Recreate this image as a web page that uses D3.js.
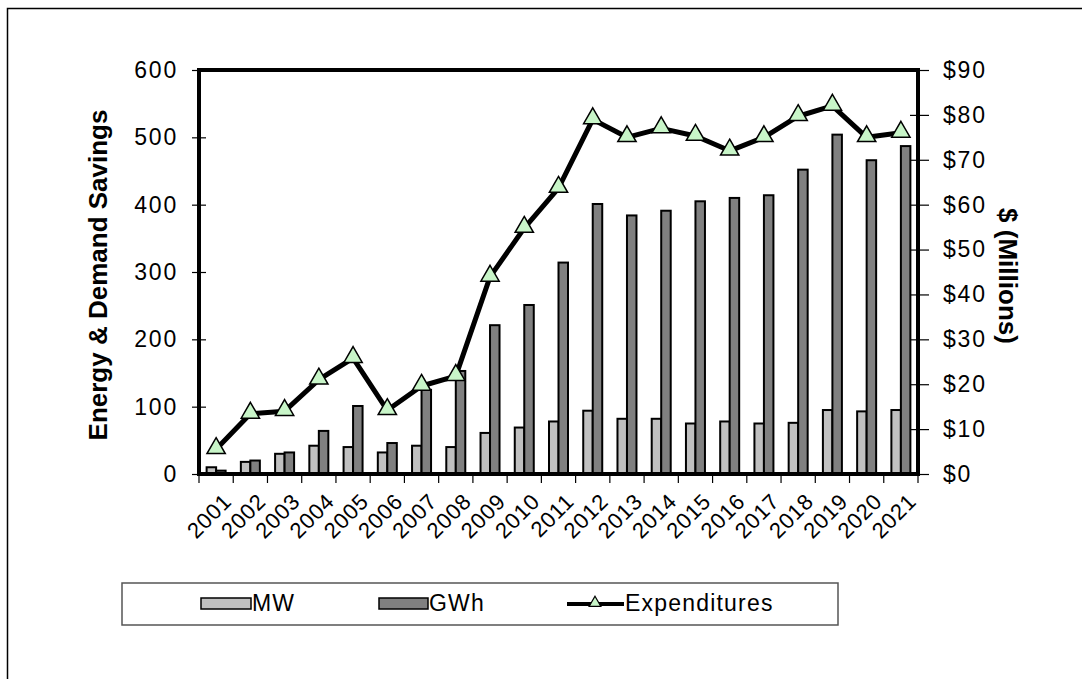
<!DOCTYPE html>
<html>
<head>
<meta charset="utf-8">
<script src="https://cdn.jsdelivr.net/npm/d3@7"></script>
<style>
  body { margin: 0; background: #fff; }
  text { font-family: "Liberation Sans", Arial, sans-serif; fill: #000; }
</style>
</head>
<body>
<div class="graph-div"></div>
<script>
var years = ["2001","2002","2003","2004","2005","2006","2007","2008","2009","2010","2011",
             "2012","2013","2014","2015","2016","2017","2018","2019","2020","2021"];
var mwValues  = [10, 18, 30, 42, 40, 32, 42, 40, 61, 69, 78, 94, 82, 82, 75, 78, 75, 76, 95, 93, 95];
var gwhValues = [5, 20, 32, 64, 101, 46, 125, 153, 221, 251, 314, 401, 384, 391, 405, 410, 414, 452, 504, 466, 487];
var expenditures = [5.5, 13.4, 14, 21, 25.8, 14.2, 19.6, 21.8, 43.9, 54.8, 63.7, 79, 75, 77, 75.3, 72, 75, 79.7, 82, 75, 76];
var leftTicks = [0, 100, 200, 300, 400, 500, 600];
var rightTicks = [0, 10, 20, 30, 40, 50, 60, 70, 80, 90];

var outerWidth = 1082;
var outerHeight = 679;
var margin = {left: 199, top: 70, right: 164, bottom: 205};
var innerWidth = outerWidth - margin.left - margin.right;
var innerHeight = outerHeight - margin.top - margin.bottom;

var svg = d3.select(".graph-div").append("svg")
    .attr("width", outerWidth)
    .attr("height", outerHeight);

// outer frame, right and bottom edges fall off the picture
svg.append("rect")
    .attr("x", 7.5).attr("y", 8.5)
    .attr("width", 1100).attr("height", 700)
    .attr("fill", "none").attr("stroke", "#000").attr("stroke-width", 1.5);

var g = svg.append("g")
    .attr("transform", "translate(" + margin.left + "," + margin.top + ")");

var xScale = d3.scaleBand().domain(years).range([0, innerWidth]).padding(0);
var bw = xScale.bandwidth();
var xSub = d3.scaleBand().domain(["MW", "GWh"]).range([bw / 2 - 9.5, bw / 2 + 9.5]);
var yLeft = d3.scaleLinear().domain([0, 600]).range([innerHeight, 0]);
var yRight = d3.scaleLinear().domain([0, 90]).range([innerHeight, 0]);

// bars
var groups = g.selectAll(".year").data(years).enter().append("g")
    .attr("transform", function(d) { return "translate(" + xScale(d) + ",0)"; });

groups.append("rect")
    .attr("x", xSub("MW"))
    .attr("width", xSub.bandwidth())
    .attr("y", function(d, i) { return yLeft(mwValues[i]); })
    .attr("height", function(d, i) { return innerHeight - yLeft(mwValues[i]); })
    .attr("fill", "#c0c0c0").attr("stroke", "#000").attr("stroke-width", 2);

groups.append("rect")
    .attr("x", xSub("GWh"))
    .attr("width", xSub.bandwidth())
    .attr("y", function(d, i) { return yLeft(gwhValues[i]); })
    .attr("height", function(d, i) { return innerHeight - yLeft(gwhValues[i]); })
    .attr("fill", "#808080").attr("stroke", "#000").attr("stroke-width", 2);

// axes
var leftAxis = d3.axisLeft(yLeft).tickValues(leftTicks).tickSize(7).tickPadding(14);
var rightAxis = d3.axisRight(yRight).tickValues(rightTicks).tickSize(9).tickPadding(16)
    .tickFormat(function(d) { return "$" + d; });

var yAxisG = g.append("g").call(leftAxis);
var y2AxisG = g.append("g").attr("transform", "translate(" + innerWidth + ",0)").call(rightAxis);
[yAxisG, y2AxisG].forEach(function(a) {
  a.attr("font-size", null).attr("font-family", null);
  a.select(".domain").remove();
  a.selectAll("text").style("font-size", "23px").style("letter-spacing", "1.8px");
  a.selectAll(".tick line").attr("stroke-width", 1.2);
});
// ticks cross the axis
yAxisG.selectAll(".tick line").attr("x1", -7).attr("x2", 7);
y2AxisG.selectAll(".tick line").attr("x1", -8).attr("x2", 11);

// x ticks at band boundaries
g.selectAll(".xtick").data(years.concat(["end"])).enter().append("line")
    .attr("x1", function(d, i) { return i * bw; })
    .attr("x2", function(d, i) { return i * bw; })
    .attr("y1", innerHeight).attr("y2", innerHeight + 9)
    .attr("stroke", "#000").attr("stroke-width", 1.2);

g.selectAll(".xlabel").data(years).enter().append("text")
    .attr("transform", function(d) {
      return "translate(" + (xScale(d) + bw / 2 + 6) + "," + (innerHeight + 18) + ") rotate(-45)";
    })
    .attr("text-anchor", "end")
    .attr("dy", "0.7em")
    .style("font-size", "22px")
    .style("letter-spacing", "0.8px")
    .text(function(d) { return d; });

// plot frame
g.append("rect")
    .attr("width", innerWidth).attr("height", innerHeight)
    .attr("fill", "none").attr("stroke", "#000").attr("stroke-width", 4);

// expenditures line
var line = d3.line()
    .x(function(d, i) { return xScale(years[i]) + bw / 2; })
    .y(function(d) { return yRight(d); });

g.append("path")
    .attr("d", line(expenditures))
    .attr("fill", "none").attr("stroke", "#000").attr("stroke-width", 5)
    .attr("stroke-linejoin", "round");

var tri = d3.symbol().type(d3.symbolTriangle).size(145);
g.selectAll(".marker").data(expenditures).enter().append("path")
    .attr("d", tri)
    .attr("transform", function(d, i) {
      return "translate(" + (xScale(years[i]) + bw / 2) + "," + (yRight(d) - 1) + ")";
    })
    .attr("fill", "#c8f5c8").attr("stroke", "#000").attr("stroke-width", 1.5);

// axis titles
svg.append("text")
    .attr("transform", "translate(107,275) rotate(-90)")
    .attr("text-anchor", "middle")
    .style("font-size", "26px").style("font-weight", "bold")
    .text("Energy & Demand Savings");

svg.append("text")
    .attr("transform", "translate(999,276) rotate(90)")
    .attr("text-anchor", "middle")
    .style("font-size", "26px").style("font-weight", "bold")
    .text("$ (Millions)");

// legend
var legend = svg.append("g");
legend.append("rect")
    .attr("x", 122).attr("y", 583).attr("width", 716).attr("height", 42)
    .attr("fill", "#fff").attr("stroke", "#555").attr("stroke-width", 1.5);

legend.append("rect").attr("x", 201).attr("y", 598).attr("width", 50).attr("height", 11)
    .attr("fill", "#c0c0c0").attr("stroke", "#000").attr("stroke-width", 1.5);
legend.append("text").attr("x", 252).attr("y", 611).style("font-size", "23px")
    .style("letter-spacing", "1.2px").text("MW");

legend.append("rect").attr("x", 379).attr("y", 598).attr("width", 49).attr("height", 11)
    .attr("fill", "#808080").attr("stroke", "#000").attr("stroke-width", 1.5);
legend.append("text").attr("x", 429).attr("y", 611).style("font-size", "23px")
    .style("letter-spacing", "1.2px").text("GWh");

legend.append("line").attr("x1", 567).attr("x2", 624).attr("y1", 604).attr("y2", 604)
    .attr("stroke", "#000").attr("stroke-width", 4);
legend.append("path").attr("d", d3.symbol().type(d3.symbolTriangle).size(60))
    .attr("transform", "translate(595,603)")
    .attr("fill", "#c8f5c8").attr("stroke", "#000").attr("stroke-width", 1.2);
legend.append("text").attr("x", 625).attr("y", 611).style("font-size", "23px")
    .style("letter-spacing", "1.2px").text("Expenditures");
</script>
</body>
</html>
